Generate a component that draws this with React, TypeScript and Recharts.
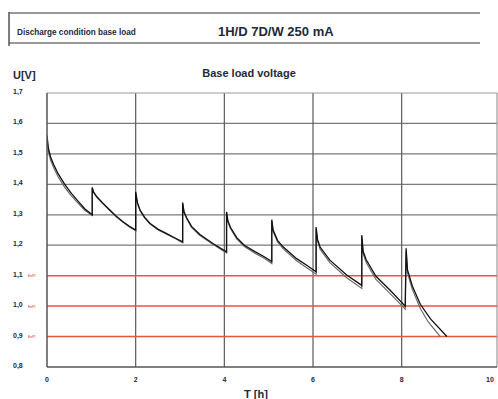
import React from "react";
import { LineChart, Line, XAxis, YAxis, ReferenceLine } from "recharts";

// hours since start (each jump = start of a new daily load period)
const hoursA = [
  0, 0.03, 0.08, 0.15, 0.25, 0.4, 0.55, 0.7, 0.85, 1.02,
  1.02, 1.05, 1.12, 1.25, 1.4, 1.55, 1.7, 1.85, 2.0,
  2.0, 2.04, 2.1, 2.2, 2.32, 2.5, 2.7, 2.9, 3.06,
  3.06, 3.09, 3.15, 3.26, 3.45, 3.75, 4.05,
  4.05, 4.08, 4.14, 4.28, 4.45, 4.7, 4.9, 5.07,
  5.07, 5.1, 5.2, 5.33, 5.63, 5.85, 6.07,
  6.07, 6.1, 6.16, 6.38, 6.76, 7.1,
  7.1, 7.13, 7.2, 7.42, 7.74, 8.08,
  8.1, 8.13, 8.24, 8.42, 8.65, 9.02,
];
const voltsA = [
  1.56, 1.52, 1.49, 1.465, 1.435, 1.4, 1.37, 1.345, 1.32, 1.3,
  1.39, 1.375, 1.36, 1.34, 1.318, 1.297, 1.279, 1.263, 1.25,
  1.375, 1.34, 1.315, 1.292, 1.272, 1.253, 1.238, 1.223, 1.211,
  1.34, 1.31, 1.29, 1.262, 1.235, 1.205, 1.178,
  1.31, 1.28, 1.258, 1.225, 1.2, 1.178, 1.162, 1.146,
  1.284, 1.25, 1.216, 1.194, 1.156, 1.135, 1.113,
  1.26, 1.22, 1.194, 1.151, 1.102, 1.068,
  1.233, 1.18, 1.152, 1.098, 1.052, 1.0,
  1.19, 1.12, 1.066, 1.006, 0.958, 0.9,
];

const hoursB = [
  0, 0.03, 0.08, 0.15, 0.25, 0.4, 0.55, 0.7, 0.85, 1.02,
  1.02, 1.05, 1.12, 1.25, 1.4, 1.55, 1.7, 1.85, 2.0,
  2.0, 2.04, 2.1, 2.2, 2.32, 2.5, 2.7, 2.9, 3.06,
  3.06, 3.09, 3.15, 3.26, 3.45, 3.75, 4.05,
  4.05, 4.08, 4.14, 4.28, 4.45, 4.7, 4.9, 5.07,
  5.07, 5.1, 5.2, 5.33, 5.63, 5.85, 6.07,
  6.07, 6.1, 6.16, 6.38, 6.76, 7.1,
  7.1, 7.13, 7.2, 7.42, 7.74, 8.08,
  8.1, 8.13, 8.24, 8.42, 8.6, 8.87,
];
const voltsB = [
  1.55, 1.51, 1.48, 1.455, 1.425, 1.39, 1.362, 1.338, 1.315, 1.298,
  1.388, 1.373, 1.358, 1.338, 1.316, 1.295, 1.277, 1.261, 1.248,
  1.372, 1.337, 1.313, 1.29, 1.27, 1.251, 1.236, 1.221, 1.208,
  1.337, 1.307, 1.287, 1.259, 1.232, 1.202, 1.175,
  1.306, 1.276, 1.254, 1.221, 1.196, 1.173, 1.157, 1.14,
  1.279, 1.245, 1.211, 1.188, 1.149, 1.127, 1.105,
  1.255, 1.214, 1.187, 1.143, 1.093, 1.058,
  1.228, 1.172, 1.143, 1.088, 1.041, 0.99,
  1.18, 1.11, 1.055, 0.992, 0.948, 0.9,
];

const xTicks = [0, 2, 4, 6, 8, 10];
const yTicks = [0.8, 0.9, 1.0, 1.1, 1.2, 1.3, 1.4, 1.5, 1.6, 1.7];
const gridX = [2, 4, 6, 8];
const gridY = [1.2, 1.3, 1.4, 1.5, 1.6];
const limitLines = [0.9, 1.0, 1.1];
const limitTag = "EoPI";

const seriesA = hoursA.map((t, i) => ({ t, v: voltsA[i] }));
const seriesB = hoursB.map((t, i) => ({ t, v: voltsB[i] }));

const font = "'Liberation Sans', Arial, sans-serif";
const ink = "#222a3a";

function fmt(v: number) {
  return v.toFixed(1).replace(".", ",");
}

function YTick(props: any) {
  const { y, payload } = props;
  const val = payload.value as number;
  const isLimit = limitLines.some((l) => Math.abs(l - val) < 1e-6);
  return (
    <g>
      <text x={13} y={y + 1} fontSize={7} fontWeight="bold" fill={ink} fontFamily={font}>
        {fmt(val)}
      </text>
      {isLimit && (
        <text x={28} y={y + 1.5} fontSize={3.5} fill="#e0301e" fontFamily={font}>
          {limitTag}
        </text>
      )}
    </g>
  );
}

function XTick(props: any) {
  const { x, payload } = props;
  return (
    <text x={x} y={382} fontSize={7} fontWeight="bold" fill={ink} fontFamily={font} textAnchor="middle">
      {payload.value}
    </text>
  );
}

export default function App() {
  return (
    <div style={{ position: "absolute", left: 0, top: 0, width: 498, height: 399, background: "#fff", fontFamily: font }}>
      {/* header box */}
      <svg width={498} height={60} style={{ position: "absolute", left: 0, top: 0 }}>
        <line x1={9} y1={13} x2={480} y2={13} stroke="#777" strokeWidth={1.5} />
        <line x1={9} y1={43} x2={480} y2={43} stroke="#777" strokeWidth={1.5} />
        <line x1={9} y1={12} x2={9} y2={46} stroke="#555" strokeWidth={1.5} />
        <text x={17} y={35} fontSize={8.2} fontWeight="bold" fill={ink} fontFamily={font}>
          Discharge condition base load
        </text>
        <text x={218} y={36} fontSize={13} fontWeight="bold" fill={ink} fontFamily={font}>
          1H/D 7D/W 250 mA
        </text>
      </svg>
      <div style={{ position: "absolute", left: 0, top: 0 }}>
        <LineChart width={498} height={399} margin={{ top: 93, right: 1, bottom: 2, left: 0 }}>
          <text x={13} y={79} fontSize={11} fontWeight="bold" fill={ink} fontFamily={font}>
            U[V]
          </text>
          <text x={249} y={77} fontSize={11} fontWeight="bold" fill={ink} fontFamily={font} textAnchor="middle">
            Base load voltage
          </text>
          <text x={256} y={398} fontSize={11} fontWeight="bold" fill={ink} fontFamily={font} textAnchor="middle">
            T [h]
          </text>
          <XAxis
            dataKey="t"
            type="number"
            domain={[0, 10.15]}
            ticks={xTicks}
            allowDataOverflow
            height={30}
            tickLine={false}
            axisLine={{ stroke: "#555", strokeWidth: 1.5 }}
            tick={(p: any) => <XTick {...p} />}
          />
          <YAxis
            type="number"
            domain={[0.8, 1.7]}
            ticks={yTicks}
            width={47}
            tickLine={false}
            axisLine={{ stroke: "#555", strokeWidth: 1.5 }}
            tick={(p: any) => <YTick {...p} />}
          />
          {gridY.map((g) => (
            <ReferenceLine key={"gy" + g} y={g} stroke="#7a7a7a" strokeWidth={1.2} />
          ))}
          {gridX.map((g) => (
            <ReferenceLine key={"gx" + g} x={g} stroke="#5a5a5a" strokeWidth={1.2} />
          ))}
          <ReferenceLine y={1.7} stroke="#9a9a9a" strokeWidth={1.2} />
          <ReferenceLine x={10.15} stroke="#9a9a9a" strokeWidth={1.2} />
          {limitLines.map((l) => (
            <ReferenceLine key={"lim" + l} y={l} stroke="#e8553a" strokeWidth={1.5} />
          ))}
          <Line
            data={seriesB}
            dataKey="v"
            type="linear"
            stroke="#6a6a6a"
            strokeWidth={1.2}
            dot={false}
            isAnimationActive={false}
          />
          <Line
            data={seriesA}
            dataKey="v"
            type="linear"
            stroke="#111"
            strokeWidth={1.3}
            dot={false}
            isAnimationActive={false}
          />
        </LineChart>
      </div>
    </div>
  );
}
